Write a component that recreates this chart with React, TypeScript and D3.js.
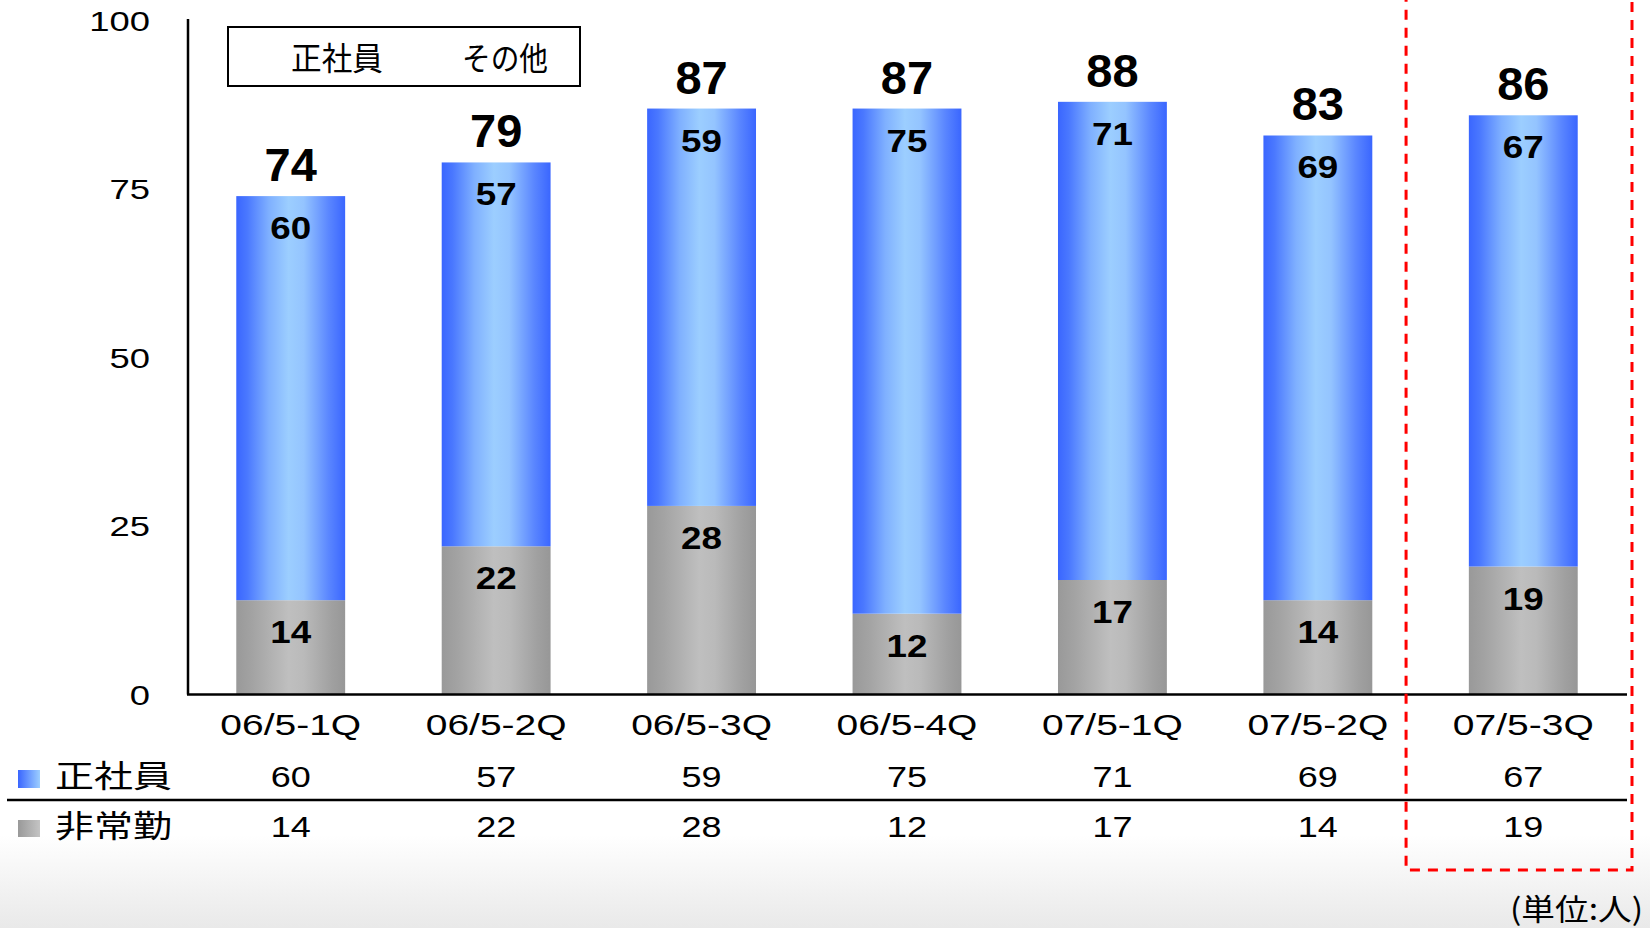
import React from "react";
import * as d3 from "d3";

const categories = ["06/5-1Q", "06/5-2Q", "06/5-3Q", "06/5-4Q", "07/5-1Q", "07/5-2Q", "07/5-3Q"];
const regularStaff = [60, 57, 59, 75, 71, 69, 67];
const partTimeStaff = [14, 22, 28, 12, 17, 14, 19];
const yTicks = [0, 25, 50, 75, 100];
const tableLabels = ["正社員", "非常勤"];
const legendLabels = ["正社員", "その他"];
const unitLabel = "(単位:人)";
const highlightCategory = "07/5-3Q";

const W = 1650;
const H = 928;
const NUM_FONT = "'Liberation Sans', Arial, sans-serif";
const CJK_FONT = "'Noto Sans CJK JP', 'Noto Sans CJK SC', sans-serif";

type STextProps = {
  x: number;
  y: number;
  sx?: number;
  anchor?: "start" | "middle" | "end";
  size: number;
  weight?: string | number;
  family?: string;
  children: React.ReactNode;
};

function SText({ x, y, sx = 1, anchor = "middle", size, weight = "normal", family = NUM_FONT, children }: STextProps) {
  return (
    <text
      transform={`translate(${x},${y}) scale(${sx},1)`}
      textAnchor={anchor}
      fontSize={size}
      fontWeight={weight}
      fontFamily={family}
      fill="#000"
    >
      {children}
    </text>
  );
}

export default function App() {
  const y = d3.scaleLinear().domain([0, 100]).range([694.5, 21]);
  const x = d3
    .scaleBand<string>()
    .domain(categories)
    .range([188, 1626])
    .paddingInner(0.47)
    .paddingOuter(0.235);

  const rows = categories.map((c, i) => ({ cat: c, part: partTimeStaff[i], regular: regularStaff[i] }));
  const stack = d3.stack<any>().keys(["part", "regular"]);
  const series = stack(rows);

  const bw = x.bandwidth();
  const hx = x(highlightCategory)!;
  const hStep = x.step();
  const boxLeft = hx - (hStep - bw) / 2 - 14.5;

  return (
    <div style={{ position: "fixed", left: 0, top: 0, width: W, height: H, background: "#fff" }}>
      <svg width={W} height={H} viewBox={`0 0 ${W} ${H}`} style={{ display: "block" }}>
        <defs>
          <linearGradient id="gBlue" x1="0" y1="0" x2="1" y2="0">
            <stop offset="0%" stopColor="#3a66ff" />
            <stop offset="10%" stopColor="#4a78ff" />
            <stop offset="30%" stopColor="#7fb0ff" />
            <stop offset="48%" stopColor="#9cceff" />
            <stop offset="62%" stopColor="#94c4ff" />
            <stop offset="85%" stopColor="#5a86ff" />
            <stop offset="100%" stopColor="#3a66ff" />
          </linearGradient>
          <linearGradient id="gGray" x1="0" y1="0" x2="1" y2="0">
            <stop offset="0%" stopColor="#999999" />
            <stop offset="15%" stopColor="#a3a3a3" />
            <stop offset="48%" stopColor="#bfbfbf" />
            <stop offset="62%" stopColor="#bababa" />
            <stop offset="88%" stopColor="#a0a0a0" />
            <stop offset="100%" stopColor="#979797" />
          </linearGradient>
          <linearGradient id="gBlueSq" x1="0" y1="0" x2="1" y2="0">
            <stop offset="0%" stopColor="#3a66ff" />
            <stop offset="100%" stopColor="#9cceff" />
          </linearGradient>
          <linearGradient id="gGraySq" x1="0" y1="0" x2="1" y2="0">
            <stop offset="0%" stopColor="#999999" />
            <stop offset="100%" stopColor="#c4c4c4" />
          </linearGradient>
          <linearGradient id="gBg" x1="0" y1="0" x2="0" y2="1">
            <stop offset="0%" stopColor="#ffffff" />
            <stop offset="100%" stopColor="#e9e9e9" />
          </linearGradient>
        </defs>

        <rect x={0} y={0} width={W} height={H} fill="#ffffff" />
        <rect x={0} y={835} width={W} height={H - 835} fill="url(#gBg)" />

        {/* bars */}
        {series.map((s, si) => (
          <g key={si}>
            {s.map((d, i) => (
              <rect
                key={i}
                x={x(categories[i])}
                y={y(d[1])}
                width={bw}
                height={y(d[0]) - y(d[1])}
                fill={si === 0 ? "url(#gGray)" : "url(#gBlue)"}
              />
            ))}
          </g>
        ))}

        {/* segment labels */}
        {series.map((s, si) =>
          s.map((d, i) => (
            <SText key={`l${si}-${i}`} x={x(categories[i])! + bw / 2} y={y(d[1]) + 43} sx={1.15} size={32} weight="bold">
              {d[1] - d[0]}
            </SText>
          ))
        )}

        {/* totals */}
        {rows.map((r, i) => (
          <SText key={`t${i}`} x={x(r.cat)! + bw / 2} y={y(r.part + r.regular) - 15} size={47} weight="bold">
            {r.part + r.regular}
          </SText>
        ))}

        {/* axes */}
        <line x1={188} y1={19} x2={188} y2={y(0)} stroke="#000" strokeWidth={2.5} />
        <line x1={187} y1={y(0)} x2={1627} y2={y(0)} stroke="#000" strokeWidth={2.5} />
        {yTicks.map((t) => (
          <SText key={`y${t}`} x={150} y={y(t) + 10} sx={1.3} anchor="end" size={28}>
            {t}
          </SText>
        ))}
        {categories.map((c) => (
          <SText key={`c${c}`} x={x(c)! + bw / 2} y={735} sx={1.3} size={30}>
            {c}
          </SText>
        ))}

        {/* legend box */}
        <rect x={228} y={27} width={352} height={59} fill="#fff" stroke="#000" strokeWidth={2} />
        <text x={291} y={70} fontSize={32} fontFamily={CJK_FONT} textLength={92} lengthAdjust="spacingAndGlyphs">
          {legendLabels[0]}
        </text>
        <text x={462} y={70} fontSize={32} fontFamily={CJK_FONT} textLength={86} lengthAdjust="spacingAndGlyphs">
          {legendLabels[1]}
        </text>

        {/* data table */}
        <rect x={18} y={770} width={22} height={18} fill="url(#gBlueSq)" />
        <rect x={18} y={820} width={22} height={17} fill="url(#gGraySq)" />
        <text x={55} y={787} fontSize={31} fontFamily={CJK_FONT} textLength={117} lengthAdjust="spacingAndGlyphs">
          {tableLabels[0]}
        </text>
        <text x={55} y={837} fontSize={31} fontFamily={CJK_FONT} textLength={117} lengthAdjust="spacingAndGlyphs">
          {tableLabels[1]}
        </text>
        <line x1={7} y1={800} x2={1627} y2={800} stroke="#000" strokeWidth={2.5} />
        {rows.map((r, i) => (
          <g key={`row${i}`}>
            <SText x={x(r.cat)! + bw / 2} y={787} sx={1.2} size={30}>
              {r.regular}
            </SText>
            <SText x={x(r.cat)! + bw / 2} y={837} sx={1.2} size={30}>
              {r.part}
            </SText>
          </g>
        ))}

        {/* highlight box */}
        <rect
          x={boxLeft}
          y={-6}
          width={1632 - boxLeft}
          height={876}
          fill="none"
          stroke="#ff0000"
          strokeWidth={3}
          strokeDasharray="10 8"
        />

        {/* unit */}
        <text x={1510} y={920} fontSize={30} fontFamily={CJK_FONT} textLength={133} lengthAdjust="spacingAndGlyphs">
          {unitLabel}
        </text>
      </svg>
    </div>
  );
}
